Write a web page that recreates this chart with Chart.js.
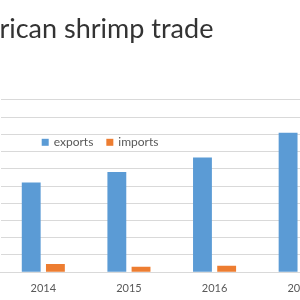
<!DOCTYPE html>
<html>
<head>
<meta charset="utf-8">
<script src="https://cdn.jsdelivr.net/npm/chart.js@4/dist/chart.umd.min.js"></script>
<style>
  html, body { margin: 0; padding: 0; background: #fff; overflow: hidden; width: 300px; height: 300px; }
  #wrap { position: absolute; top: 0; }
</style>
</head>
<body>
<div id="wrap"><canvas id="chart"></canvas></div>
<script>
const CATEGORIES = ["2014", "2015", "2016", "2017"];
const SERIES_NAMES = ["exports", "imports"];
const EXPORTS = [520, 581, 665, 809];
const IMPORTS = [48, 32, 38, 40];
const COLORS = ["#5b9bd5", "#ed7d31"];
const Y_MAX = 1000;
const Y_STEP = 100;
const TITLE = "Latin American shrimp trade";

const FONT = "Lato, 'Open Sans', sans-serif";
const TITLE_SIZE = 27;

// the picture is cropped: the start of the title and the y axis sit left of the window
const mctx = document.createElement("canvas").getContext("2d");
mctx.font = TITLE_SIZE + "px " + FONT;
const OFF = Math.round(mctx.measureText("Latin Ame").width) + 1;

const wrap = document.getElementById("wrap");
wrap.style.left = -OFF + "px";
const canvas = document.getElementById("chart");
canvas.width = OFF + 353;
canvas.height = 310;

// legend drawn inside the plot area, like the original
const legendInPlot = {
  id: "legendInPlot",
  afterDraw(chart) {
    const ctx = chart.ctx;
    const a = chart.chartArea;
    ctx.save();
    ctx.font = "12px " + FONT;
    ctx.textBaseline = "middle";
    ctx.textAlign = "left";
    let x = a.left + 41.2;
    const y = a.top + 42.4;
    chart.data.datasets.forEach((ds) => {
      ctx.fillStyle = ds.backgroundColor;
      ctx.fillRect(x, y - 3.5, 7, 7);
      ctx.fillStyle = "#595959";
      ctx.fillText(ds.label, x + 12, y);
      x += 12 + ctx.measureText(ds.label).width + 13;
    });
    ctx.restore();
  },
};

new Chart(canvas, {
  type: "bar",
  data: {
    labels: CATEGORIES,
    datasets: [
      { label: SERIES_NAMES[0], data: EXPORTS, backgroundColor: COLORS[0] },
      { label: SERIES_NAMES[1], data: IMPORTS, backgroundColor: COLORS[1] },
    ],
  },
  options: {
    responsive: false,
    animation: false,
    categoryPercentage: 0.565,
    barPercentage: 0.78,
    layout: { padding: { left: 0, right: 10, top: 0, bottom: 4.4 } },
    plugins: {
      legend: { display: false },
      tooltip: { enabled: false },
      title: {
        display: true,
        text: TITLE,
        align: "start",
        color: "#333333",
        font: { family: FONT, size: TITLE_SIZE, weight: "normal", lineHeight: 1.2 },
        padding: { top: 13, bottom: 54.5 },
      },
    },
    scales: {
      x: {
        grid: { display: false, drawTicks: false },
        border: { display: true, color: "#d9d9d9" },
        ticks: { color: "#595959", font: { family: FONT, size: 11 }, padding: 10.1 },
      },
      y: {
        min: 0,
        max: Y_MAX,
        ticks: { stepSize: Y_STEP, color: "#595959", font: { family: FONT, size: 11 } },
        grid: { color: "#d9d9d9", drawTicks: false },
        border: { display: false },
        afterFit: (scale) => { scale.width = OFF + 0.5; },
      },
    },
  },
  plugins: [legendInPlot],
});
</script>
</body>
</html>
